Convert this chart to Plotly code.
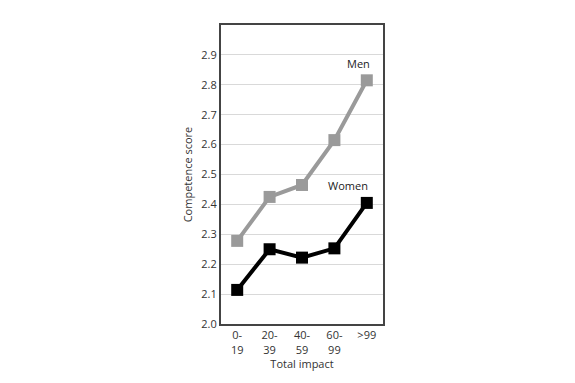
import plotly.graph_objects as go

categories = ["0-<br>19", "20-<br>39", "40-<br>59", "60-<br>99", ">99"]
men = [2.278, 2.425, 2.465, 2.615, 2.815]
women = [2.114, 2.25, 2.222, 2.253, 2.405]
y_ticks = [2.0, 2.1, 2.2, 2.3, 2.4, 2.5, 2.6, 2.7, 2.8, 2.9]

font_family = "Open Sans, DejaVu Sans, sans-serif"
xs = list(range(len(categories)))

fig = go.Figure()
fig.add_trace(go.Scatter(
    x=xs, y=men, mode="lines+markers", name="Men",
    line=dict(color="#9a9a9a", width=4),
    marker=dict(symbol="square", size=12, color="#9a9a9a"),
    showlegend=False,
))
fig.add_trace(go.Scatter(
    x=xs, y=women, mode="lines+markers", name="Women",
    line=dict(color="#000000", width=4),
    marker=dict(symbol="square", size=12, color="#000000"),
    showlegend=False,
))

fig.add_annotation(x=3.73, y=2.872, text="Men", showarrow=False,
                   font=dict(size=11, color="#222", family=font_family))
fig.add_annotation(x=3.43, y=2.462, text="Women", showarrow=False,
                   font=dict(size=11, color="#222", family=font_family))

fig.update_layout(
    width=575, height=383,
    margin=dict(l=213, r=200, t=17, b=67),
    paper_bgcolor="white", plot_bgcolor="white",
    font=dict(family=font_family, size=11, color="#333"),
    xaxis=dict(
        range=[-0.5, 4.5], tickmode="array", tickvals=xs, ticktext=categories,
        showgrid=False, zeroline=False,
        showline=True, linecolor="#444", linewidth=2, mirror=True,
        ticks="", tickfont=dict(size=11, color="#333"),
        title=dict(text="Total impact", font=dict(size=11, color="#333"), standoff=2),
    ),
    yaxis=dict(
        range=[2.0, 3.0], tickmode="array", tickvals=y_ticks,
        ticktext=[f"{v:.1f}" for v in y_ticks],
        showgrid=True, gridcolor="#d9d9d9", gridwidth=1, zeroline=False,
        showline=True, linecolor="#444", linewidth=2, mirror=True,
        ticks="", tickfont=dict(size=11, color="#333"),
        title=dict(text="Competence score", font=dict(size=11, color="#333"), standoff=6),
    ),
)

fig.write_html("out.html")
